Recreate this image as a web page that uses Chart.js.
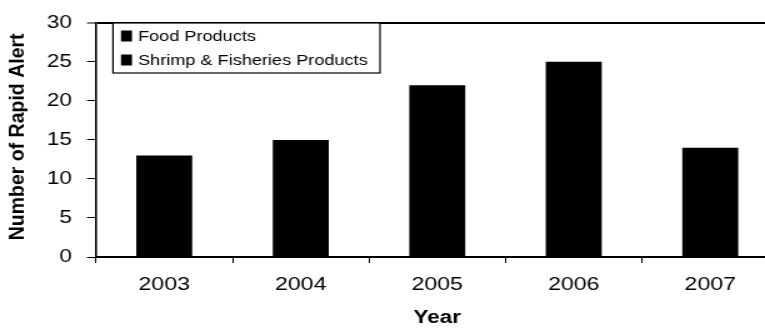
<!DOCTYPE html>
<html>
<head>
<meta charset="utf-8">
<script src="https://cdn.jsdelivr.net/npm/chart.js@4/dist/chart.umd.min.js"></script>
<style>
  html, body { margin: 0; padding: 0; overflow: hidden; background: #fff; }
  /* the figure is printed slightly wide: draw at 624px and stretch horizontally */
  #wrap { position: absolute; left: 0; top: 0; width: 624px; height: 329px;
          transform: scaleX(1.25); transform-origin: 0 0; }
</style>
</head>
<body>
<div id="wrap"><canvas id="chart"></canvas></div>
<script>
// Rapid alerts per year
const years = ['2003', '2004', '2005', '2006', '2007'];
const shrimpAlerts = [13, 15, 22, 25, 14];
const foodAlerts = [null, null, null, null, null];
const yTicks = [0, 5, 10, 15, 20, 25, 30];
const yTitle = 'Number of Rapid Alert';
const xTitle = 'Year';

const FONT = '"Liberation Sans", Arial, Helvetica, sans-serif';
Chart.defaults.font.family = FONT;
Chart.defaults.color = '#000';

// boxed legend in the upper-left corner of the plot
const boxLegend = {
  id: 'boxLegend',
  afterDraw(chart) {
    const { ctx, chartArea } = chart;
    const x0 = chartArea.left + 13.6, y0 = 23, w = 213.6, h = 50;
    ctx.save();
    ctx.fillStyle = '#fff';
    ctx.fillRect(x0, y0, w, h);
    ctx.strokeStyle = '#000';
    ctx.lineWidth = 1.2;
    ctx.strokeRect(x0, y0, w, h);
    ctx.font = '14.5px ' + FONT;
    ctx.textBaseline = 'middle';
    ctx.textAlign = 'left';
    chart.data.datasets.forEach((ds, i) => {
      const cy = 36 + i * 24;
      ctx.fillStyle = ds.backgroundColor;
      ctx.fillRect(x0 + 6.4, cy - 5.5, 8.8, 11);
      ctx.fillStyle = '#000';
      ctx.fillText(ds.label, x0 + 20, cy + 0.5);
    });
    ctx.restore();
  }
};

// vertical axis title, kept at natural proportions despite the stretch
const sideTitle = {
  id: 'sideTitle',
  afterDraw(chart) {
    const { ctx, chartArea } = chart;
    ctx.save();
    ctx.translate(14.8, (chartArea.top + chartArea.bottom) / 2 - 3);
    ctx.rotate(-Math.PI / 2);
    ctx.scale(1, 0.8);
    ctx.font = 'bold 19.5px ' + FONT;
    ctx.fillStyle = '#000';
    ctx.textAlign = 'center';
    ctx.textBaseline = 'middle';
    ctx.fillText(yTitle, 0, 0);
    ctx.restore();
  }
};

new Chart(document.getElementById('chart'), {
  type: 'bar',
  data: {
    labels: years,
    datasets: [
      { label: 'Food Products', data: foodAlerts, backgroundColor: '#000' },
      { label: 'Shrimp & Fisheries Products', data: shrimpAlerts, backgroundColor: '#000' }
    ]
  },
  options: {
    responsive: true,
    maintainAspectRatio: false,
    animation: false,
    devicePixelRatio: 1,
    grouped: false,
    barPercentage: 0.41,
    categoryPercentage: 1,
    layout: { padding: { top: 14, right: 1.2, left: 0, bottom: 0 } },
    plugins: {
      legend: { display: false },
      tooltip: { enabled: false },
      title: { display: false }
    },
    scales: {
      x: {
        grid: {
          display: true,
          drawOnChartArea: false,
          offset: true,
          tickLength: 6,
          tickColor: '#000',
          tickWidth: 1
        },
        border: { display: true, color: '#000', width: 2 },
        ticks: { font: { size: 18.5 }, color: '#000', padding: 11, maxRotation: 0 },
        title: {
          display: true,
          text: xTitle,
          font: { size: 18, weight: 'bold' },
          color: '#000',
          padding: { top: 0, bottom: 0 }
        },
        afterFit(scale) { scale.height = 72; }
      },
      y: {
        min: 0,
        max: 30,
        afterBuildTicks(scale) { scale.ticks = yTicks.map(v => ({ value: v })); },
        grid: {
          color: c => (c.tick && c.tick.value === 30) ? '#000' : 'rgba(0,0,0,0)',
          lineWidth: c => (c.tick && c.tick.value === 30) ? 2 : 1,
          tickColor: '#000',
          tickWidth: 1,
          tickLength: 7.2
        },
        border: { display: true, color: '#000', width: 1.6 },
        ticks: { font: { size: 18 }, color: '#000', padding: 12 },
        title: { display: false },
        afterFit(scale) { scale.width = 76.8; }
      }
    }
  },
  plugins: [boxLegend, sideTitle]
});
</script>
</body>
</html>
